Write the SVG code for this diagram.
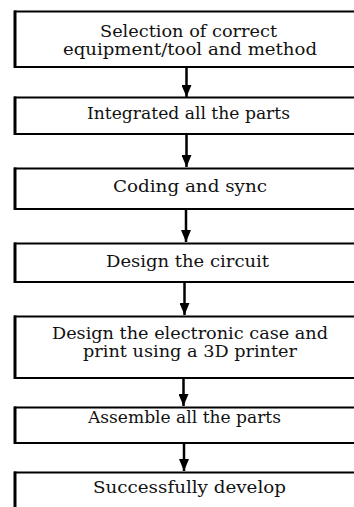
<svg xmlns="http://www.w3.org/2000/svg" width="354" height="507" viewBox="0 0 354 507">
  <defs>
    <marker id="arrowhead" viewBox="0 0 12 10" refX="12" refY="5" markerWidth="12" markerHeight="10" markerUnits="userSpaceOnUse" orient="auto">
      <path d="M0,0 L12,5 L0,10 Z" fill="#000"/>
    </marker>
  </defs>
  <style>
    .box { fill: #fff; stroke: #000; stroke-width: 2; }
    .edge { stroke: #000; stroke-width: 3; }
    .label { font-family: 'DejaVu Serif', 'Liberation Serif', serif; font-size: 16px; fill: #111; text-anchor: middle; }
    .conn { stroke: #000; stroke-width: 2.5; fill: none; marker-end: url(#arrowhead); }
  </style>
  <rect width="354" height="507" fill="#fff"/>

  <g id="connectors">
    <line class="conn" x1="186.5" y1="67" x2="186.5" y2="97"/>
    <line class="conn" x1="186.5" y1="134" x2="186.5" y2="167"/>
    <line class="conn" x1="186" y1="209" x2="186" y2="242"/>
    <line class="conn" x1="184.5" y1="282" x2="184.5" y2="315"/>
    <line class="conn" x1="183.5" y1="378" x2="183.5" y2="406"/>
    <line class="conn" x1="184" y1="443" x2="184" y2="471"/>
  </g>

  <g id="node-selection">
    <rect class="box" x="15" y="11.5" width="360" height="55.5"/>
    <line class="edge" x1="15" y1="10.5" x2="15" y2="68"/>
    <text class="label" x="188.5" y="37" textLength="177" lengthAdjust="spacingAndGlyphs">Selection of correct</text>
    <text class="label" x="190" y="55" textLength="254" lengthAdjust="spacingAndGlyphs">equipment/tool and method</text>
  </g>

  <g id="node-integrated">
    <rect class="box" x="15" y="97.5" width="360" height="36.5"/>
    <line class="edge" x1="15" y1="96.5" x2="15" y2="135"/>
    <text class="label" x="188.5" y="119" textLength="203" lengthAdjust="spacingAndGlyphs">Integrated all the parts</text>
  </g>

  <g id="node-coding">
    <rect class="box" x="15" y="168.5" width="360" height="40.5"/>
    <line class="edge" x1="15" y1="167.5" x2="15" y2="210"/>
    <text class="label" x="190" y="192" textLength="154" lengthAdjust="spacingAndGlyphs">Coding and sync</text>
  </g>

  <g id="node-circuit">
    <rect class="box" x="15" y="243.5" width="360" height="38.5"/>
    <line class="edge" x1="15" y1="242.5" x2="15" y2="283"/>
    <text class="label" x="187.5" y="267" textLength="163" lengthAdjust="spacingAndGlyphs">Design the circuit</text>
  </g>

  <g id="node-case">
    <rect class="box" x="15" y="316.5" width="360" height="61.5"/>
    <line class="edge" x1="15" y1="315.5" x2="15" y2="379"/>
    <text class="label" x="190" y="339" textLength="276" lengthAdjust="spacingAndGlyphs">Design the electronic case and</text>
    <text class="label" x="190" y="357" textLength="214" lengthAdjust="spacingAndGlyphs">print using a 3D printer</text>
  </g>

  <g id="node-assemble">
    <rect class="box" x="15" y="407.5" width="360" height="35.5"/>
    <line class="edge" x1="15" y1="406.5" x2="15" y2="444"/>
    <text class="label" x="184.5" y="423" textLength="193" lengthAdjust="spacingAndGlyphs">Assemble all the parts</text>
  </g>

  <g id="node-develop">
    <rect class="box" x="15" y="472.5" width="360" height="60"/>
    <line class="edge" x1="15" y1="471.5" x2="15" y2="510"/>
    <text class="label" x="189.5" y="493" textLength="193" lengthAdjust="spacingAndGlyphs">Successfully develop</text>
  </g>
</svg>
